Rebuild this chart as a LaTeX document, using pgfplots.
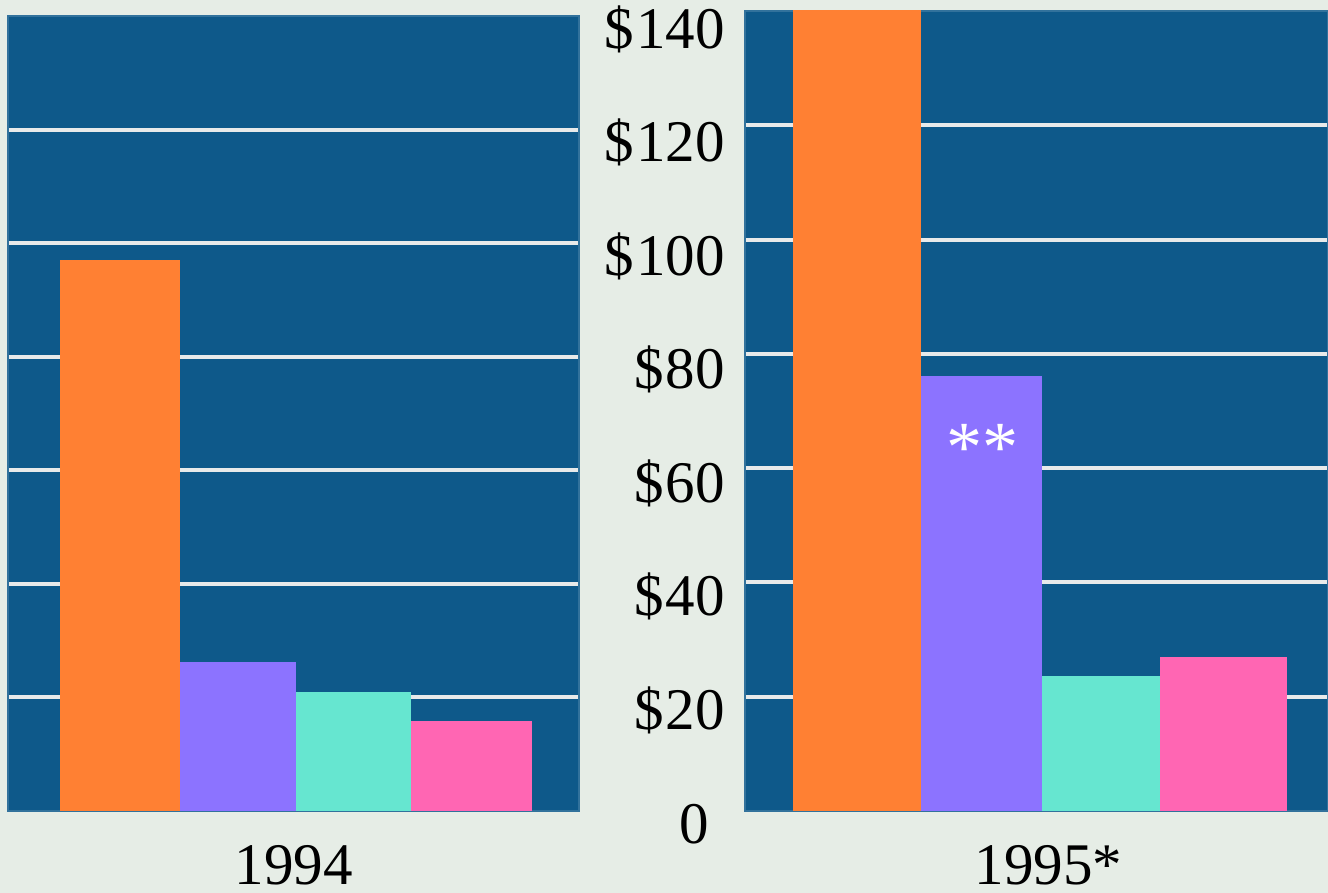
\documentclass[border=0pt]{standalone}
\usepackage{fontspec}
\setmainfont{Liberation Serif}
\usepackage{pgfplots}
\pgfplotsset{compat=1.18}
\definecolor{bg}{RGB}{230,237,230}
\definecolor{panel}{RGB}{14,89,138}
\definecolor{c1}{RGB}{255,128,51}
\definecolor{c2}{RGB}{140,115,255}
\definecolor{c3}{RGB}{102,230,208}
\definecolor{c4}{RGB}{255,102,179}
\definecolor{gridc}{RGB}{232,234,234}
\newcommand{\bigfont}{\fontsize{29.5bp}{34bp}\selectfont}
\pgfplotsset{panelstyle/.style={
  scale only axis, ymin=0, ymax=140, xtick=\empty,
  ymajorgrids, major grid style={gridc, line width=2bp}, major tick length=0pt,
  axis background/.style={fill=panel},
  axis line style={draw=panel!85!white, line width=0.6bp},
  ybar,
  xlabel style={font=\bigfont, anchor=base, inner sep=0pt, text depth=0pt,
    at={(axis description cs:0.5,0)}, yshift=-36.5bp},
  clip=true
}}
\begin{document}
\begin{tikzpicture}
\fill[bg] (0,0) rectangle (664bp,446.5bp);
% 1994 (x in reference pixel units)
\begin{axis}[panelstyle, at={(4bp,41bp)}, anchor=south west,
  width=285.5bp, height=397.5bp, xmin=8, xmax=579,
  ytick={20,40,...,120}, yticklabels={}, xlabel={1994},
  extra y ticks={0,20,...,140},
  extra y tick labels={{0\rule{8bp}{0pt}},{\$\hspace{1bp}20},{\$\hspace{1bp}40},{\$\hspace{1bp}60},{\$\hspace{1bp}80},{\$\hspace{1bp}100},{\$\hspace{1bp}120},{\$\hspace{1bp}140}},
  extra y tick style={ymajorgrids=false, yticklabel pos=right,
    yticklabel style={font=\bigfont, anchor=east, inner sep=0pt, xshift=73bp, yshift=-6.5bp}}]
\addplot[fill=c1, draw=none, bar shift=0pt, bar width=120] coordinates {(120,97)};
\addplot[fill=c2, draw=none, bar shift=0pt, bar width=116] coordinates {(238,26.2)};
\addplot[fill=c3, draw=none, bar shift=0pt, bar width=115] coordinates {(353.5,21)};
\addplot[fill=c4, draw=none, bar shift=0pt, bar width=121] coordinates {(471.5,15.8)};
\end{axis}
% 1995*
\begin{axis}[panelstyle, at={(372.5bp,41bp)}, anchor=south west,
  width=291.5bp, height=400bp, xmin=745, xmax=1328,
  ytick={20,40,...,120}, yticklabels={},
  xlabel={1995*}, xlabel style={xshift=6bp}]
\addplot[fill=c1, draw=none, bar shift=0pt, bar width=128] coordinates {(857,141)};
\addplot[fill=c2, draw=none, bar shift=0pt, bar width=121] coordinates {(981.5,76.2)};
\addplot[fill=c3, draw=none, bar shift=0pt, bar width=118] coordinates {(1101,23.6)};
\addplot[fill=c4, draw=none, bar shift=0pt, bar width=127] coordinates {(1223.5,26.9)};
\node[text=white, font=\fontsize{36bp}{40bp}\selectfont] at (axis cs:982,63.5) {**};
\end{axis}
\pgfresetboundingbox
\useasboundingbox (0,0) rectangle (664bp,446.5bp);
\end{tikzpicture}
\end{document}
